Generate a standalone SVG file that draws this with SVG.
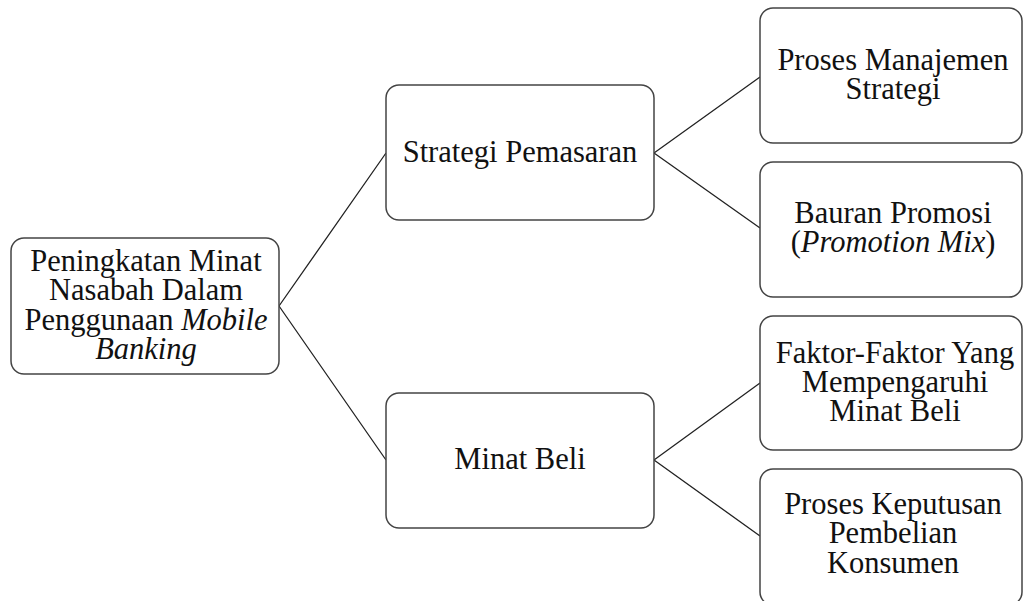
<svg xmlns="http://www.w3.org/2000/svg" width="1023" height="601" viewBox="0 0 1023 601">
<style>
.box{fill:#fff;stroke:#444;stroke-width:1.5}
.t{font-family:'Liberation Serif','Times New Roman','DejaVu Serif',serif;font-size:30.5px;fill:#111;text-anchor:middle}
.i{font-style:italic}
.c{stroke:#222;stroke-width:1.3;fill:none}
</style>
<rect width="1023" height="601" fill="#fff"/>
<g id="connectors">
<path class="c" d="M279,306 L386,153 M279,306 L386,460 M654,153 L760,77 M654,153 L760,228 M654,460 L760,383 M654,460 L760,536"/>
</g>
<g id="root">
<rect class="box" x="11" y="238" width="268" height="136" rx="13"/>
<text class="t"><tspan x="146" y="271">Peningkatan Minat</tspan><tspan x="146" y="300">Nasabah Dalam</tspan><tspan x="146" y="330">Penggunaan <tspan class="i">Mobile</tspan></tspan><tspan x="146" y="359" class="i">Banking</tspan></text>
</g>
<g id="strategi">
<rect class="box" x="386" y="85" width="268" height="135" rx="13"/>
<text class="t" x="520" y="162">Strategi Pemasaran</text>
</g>
<g id="minat">
<rect class="box" x="386" y="393" width="268" height="135" rx="13"/>
<text class="t" x="520" y="469">Minat Beli</text>
</g>
<g id="proses-manajemen">
<rect class="box" x="760" y="8" width="262" height="135" rx="13"/>
<text class="t"><tspan x="893" y="70">Proses Manajemen</tspan><tspan x="893" y="99">Strategi</tspan></text>
</g>
<g id="bauran">
<rect class="box" x="760" y="162" width="262" height="135" rx="13"/>
<text class="t"><tspan x="893" y="223">Bauran Promosi</tspan><tspan x="893" y="252">(<tspan class="i">Promotion Mix</tspan>)</tspan></text>
</g>
<g id="faktor">
<rect class="box" x="760" y="316" width="262" height="134" rx="13"/>
<text class="t"><tspan x="895" y="363">Faktor-Faktor Yang</tspan><tspan x="895" y="392">Mempengaruhi</tspan><tspan x="895" y="421">Minat Beli</tspan></text>
</g>
<g id="keputusan">
<rect class="box" x="760" y="469" width="262" height="136" rx="13"/>
<text class="t"><tspan x="893" y="514">Proses Keputusan</tspan><tspan x="893" y="543">Pembelian</tspan><tspan x="893" y="573">Konsumen</tspan></text>
</g>
</svg>
